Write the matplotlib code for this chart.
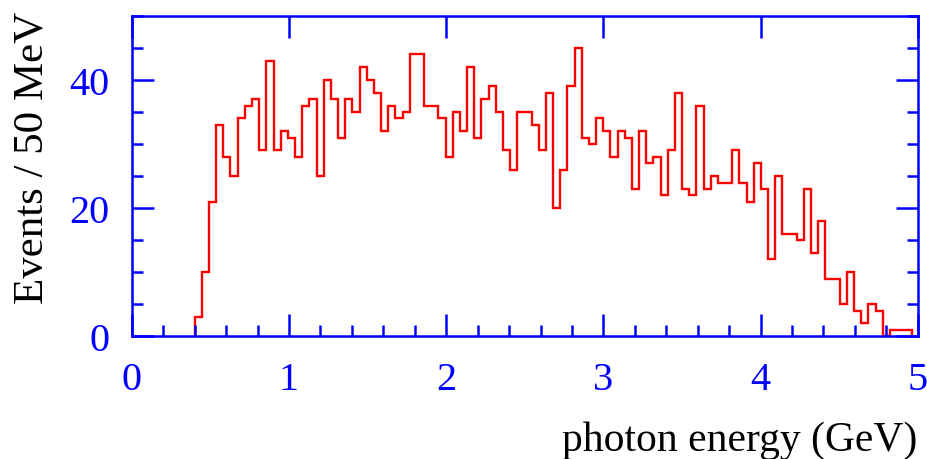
import numpy as np
import matplotlib
matplotlib.use("Agg")
import matplotlib.pyplot as plt
from matplotlib.ticker import MultipleLocator

# photon energy spectrum, counts per bin starting at 0.40 GeV
e_start = 0.40
bin_width = 0.0456
counts = [3, 10, 21, 33, 28, 25, 34, 36, 37, 29,
          43, 29, 32, 31, 28, 36, 37, 25, 40, 37,
          31, 37, 35, 42, 40, 38, 32, 36, 34, 35,
          44, 44, 36, 36, 34, 28, 35, 32, 42, 31,
          37, 39, 35, 29, 26, 35, 35, 33, 29, 38,
          20, 26, 39, 45, 31, 30, 34, 32, 28, 32,
          31, 23, 32, 27, 28, 22, 29, 38, 23, 22,
          36, 23, 25, 24, 24, 29, 24, 21, 27, 23,
          12, 25, 16, 16, 15, 23, 13, 18, 9, 9,
          5, 10, 4, 2, 5, 4, 0, 1, 1, 1]

x_ticks = [0, 1, 2, 3, 4, 5]
y_ticks = [0, 20, 40]

blue = "#0000ff"
serif = ["Liberation Serif", "DejaVu Serif"]

edges = e_start + bin_width * np.arange(len(counts) + 1)

fig = plt.figure(figsize=(9.28, 4.6), dpi=100)
ax = fig.add_axes([0.142, 0.267, 0.847, 0.696])

ax.stairs(counts, edges, color="#ff0000", linewidth=1.7, baseline=0)

ax.set_xlim(0, 5)
ax.set_ylim(0, 50)
ax.set_xticks(x_ticks)
ax.set_yticks(y_ticks)
ax.xaxis.set_minor_locator(MultipleLocator(0.2))
ax.yaxis.set_minor_locator(MultipleLocator(5))

for s in ax.spines.values():
    s.set_color(blue)
    s.set_linewidth(1.8)

ax.tick_params(which="both", direction="in", right=True,
               color=blue, width=1.8, labelcolor=blue, labelsize=29)
ax.tick_params(which="major", top=True, length=16)
ax.tick_params(which="minor", top=False, length=8)
ax.tick_params(axis="x", pad=18)
ax.tick_params(axis="y", pad=16)
for lab in ax.get_xticklabels() + ax.get_yticklabels():
    lab.set_family(serif)

ax.set_ylabel("Events / 50 MeV", fontsize=31, family=serif, color="black")
ax.yaxis.set_label_coords(-0.102, 0.56)
ax.set_xlabel("photon energy (GeV)", fontsize=30, family=serif, color="black")
ax.xaxis.label.set_ha("right")
ax.xaxis.set_label_coords(1.0, -0.262)

fig.savefig("out.png", dpi=100)
